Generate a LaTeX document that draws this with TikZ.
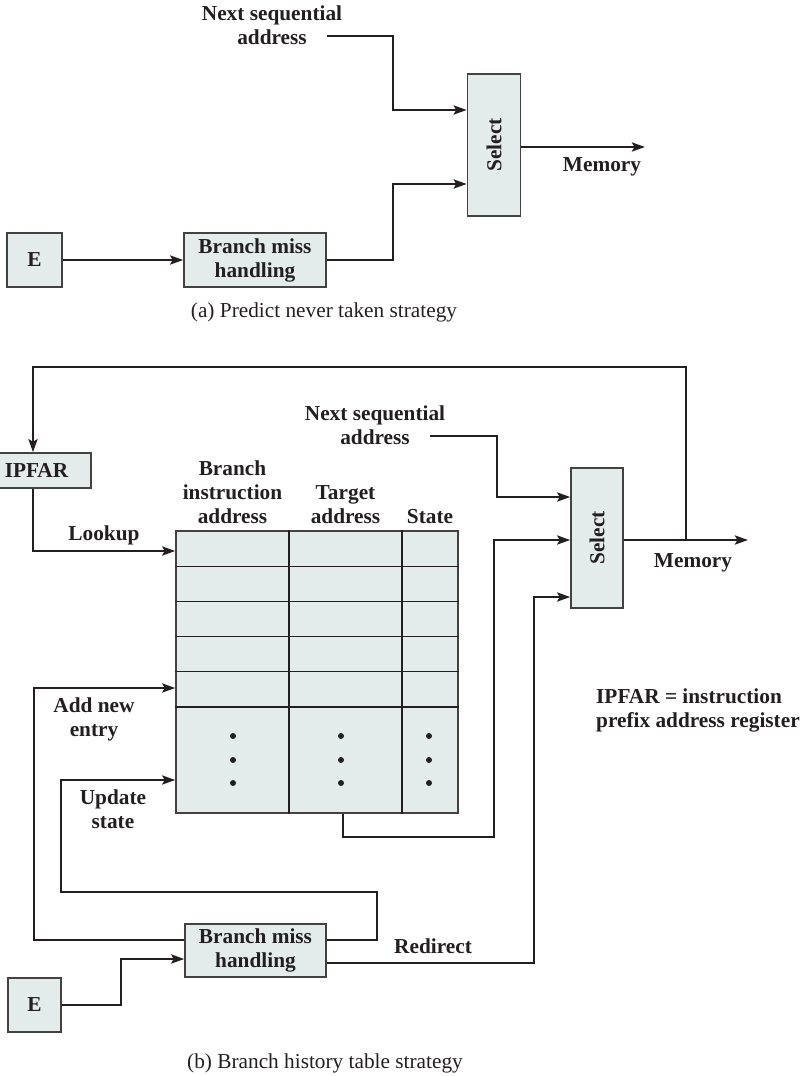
\documentclass[tikz,border=0pt]{standalone}
\usepackage{fontspec}
\setmainfont{Liberation Serif}
\usetikzlibrary{arrows.meta,calc}
\definecolor{boxfill}{RGB}{228,235,235}
\definecolor{ink}{RGB}{35,31,32}
\begin{document}
\begin{tikzpicture}[x=1pt,y=-1pt,
  every node/.style={font=\fontsize{21.3}{24}\selectfont\bfseries, text=ink},
  box/.style={draw=ink!85, line width=1.5pt, fill=boxfill, inner sep=0pt, align=center},
  conn/.style={draw=ink, line width=2.6pt},
  arr/.style={conn, -{Stealth[length=13pt,width=9pt,inset=2.5pt]}},
  gridline/.style={draw=ink, line width=1.3pt},
  lbl/.style={align=center, inner sep=0pt},
  captext/.style={font=\fontsize{21.3}{24}\selectfont, inner sep=0pt}]
\useasboundingbox (0,0) rectangle (800,1076);

% ---------- (a) ----------
\node[lbl] (nsaA) at (272,25) {Next sequential\\address};
\coordinate (nA) at (327,36);
\node[box, minimum width=53pt, minimum height=142pt] (selA) at (494,145) {\rotatebox{90}{Select}};
\node[box, minimum width=55pt, minimum height=54pt] (EA) at (34.5,260) {E};
\node[box, minimum width=142pt, minimum height=54pt] (bmA) at (255,260) {Branch miss\\handling};
\coordinate (memA) at (645,147);
\node[lbl] (memlA) at (602,167) {Memory};
\node[captext] (capA) at (324,312) {(a) Predict never taken strategy};

\draw[arr] (nA) -- (393,36) -- (393,110) -- (selA.west |- 0,110);
\draw[arr] (bmA.east) -- (393,260) -- (393,184) -- (selA.west |- 0,184);
\draw[arr] (EA.east) -- (bmA.west);
\draw[arr] (selA.east |- 0,147) -- (memA);

% ---------- (b) ----------
\node[box, minimum width=109pt, minimum height=35pt] (ipfar) at (36.5,470.5) {IPFAR};
\node[box, minimum width=282pt, minimum height=282pt] (tbl) at (317,672) {};
\foreach \y in {566.2,601.4,636.6,671.8,707}
  \draw[gridline] (tbl.west |- 0,\y) -- (tbl.east |- 0,\y);
\draw[gridline] (tbl.north -| 289,0) -- (tbl.south -| 289,0);
\draw[gridline] (tbl.north -| 402,0) -- (tbl.south -| 402,0);
\foreach \x in {233,341,429}
  \foreach \y in {736,760,783}
    \fill[ink] (\x,\y) circle (3pt);

\node[lbl, anchor=south] (hB) at (232.5,524) {Branch\\instruction\\address};
\node[lbl, anchor=south] (hT) at (345.5,524) {Target\\address};
\node[lbl, anchor=south] (hS) at (430,524) {State};

\node[box, minimum width=52pt, minimum height=140pt] (selB) at (597,538) {\rotatebox{90}{Select}};
\node[lbl] (nsaB) at (375,425) {Next sequential\\address};
\coordinate (nB) at (430,436);
\coordinate (memB) at (748,540);
\node[lbl] (memlB) at (693,563) {Memory};

\node[box, minimum width=141pt, minimum height=53pt] (bmB) at (255.5,950.5) {Branch miss\\handling};
\node[box, minimum width=53pt, minimum height=54pt] (EB) at (34.5,1005) {E};

\node[lbl] (lk) at (104,535) {Lookup};
\node[lbl] (rd) at (433,946) {Redirect};
\node[lbl] (an) at (94,719) {Add new\\entry};
\node[lbl] (us) at (113,809) {Update\\state};
\node[lbl, align=left, anchor=west] (note) at (596,710) {IPFAR = instruction\\prefix address register};
\node[captext] (capB) at (325,1063) {(b) Branch history table strategy};

\draw[arr] (nB) -- (497,436) -- (497,497) -- (selB.west |- 0,497);
\draw[arr] (selB.east |- 0,540) -- (memB);
\draw[arr] (686,540) -- (686,367) -- (33,367) -- (ipfar.north -| 33,0);
\draw[arr] (ipfar.south -| 33,0) -- (33,551) -- (tbl.west |- 0,551);
\draw[arr] (tbl.south -| 343,0) -- (343,837) -- (494,837) -- (494,540) -- (selB.west |- 0,540);
\draw[arr] (bmB.east |- 0,963) -- (534,963) -- (534,597) -- (selB.west |- 0,597);
\draw[arr] (bmB.west |- 0,940) -- (34,940) -- (34,688) -- (tbl.west |- 0,688);
\draw[arr] (bmB.east |- 0,940) -- (377,940) -- (377,892) -- (61,892) -- (61,780) -- (tbl.west |- 0,780);
\draw[arr] (EB.east) -- (121,1005) -- (121,959) -- (bmB.west |- 0,959);
\end{tikzpicture}
\end{document}
